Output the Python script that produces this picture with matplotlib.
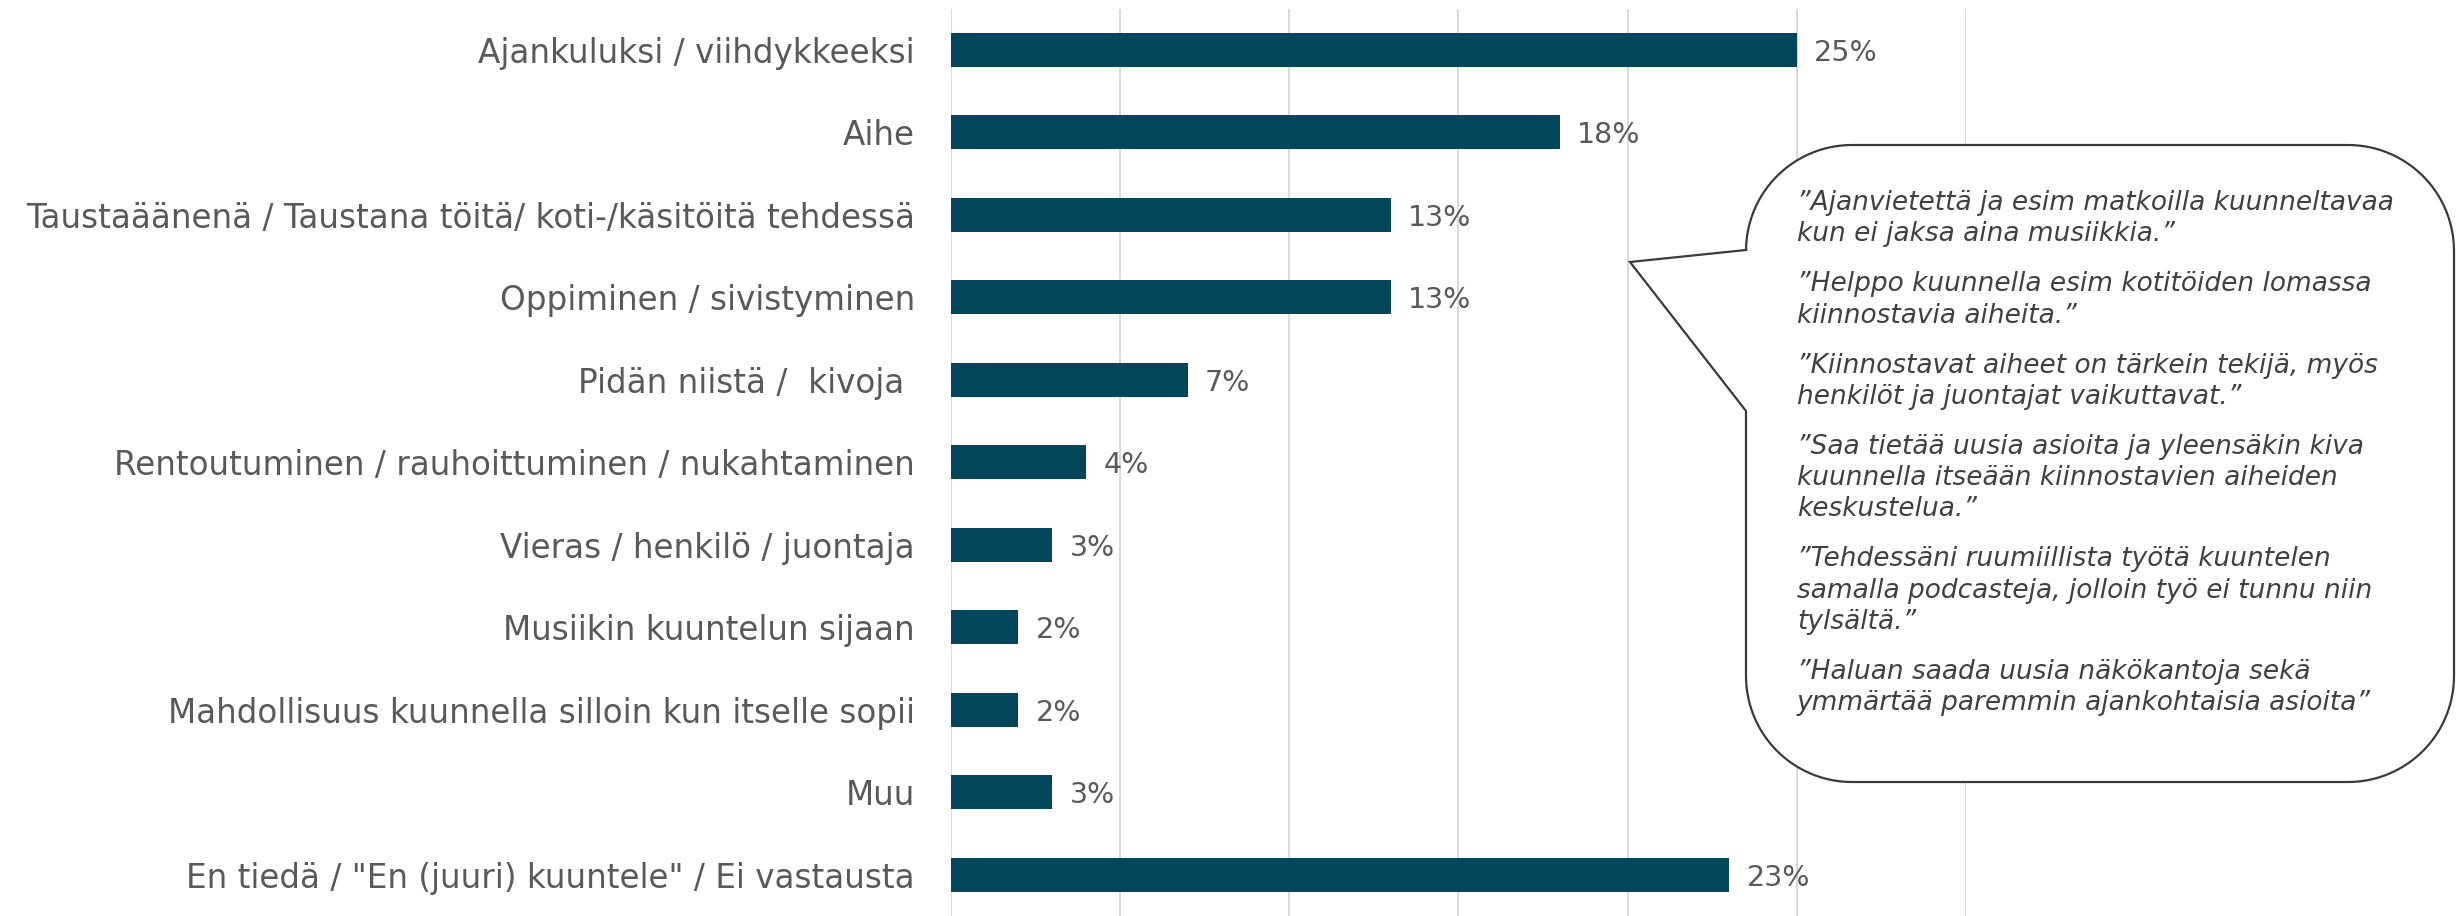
import numpy as np
import matplotlib
matplotlib.use("Agg")
import matplotlib.pyplot as plt
from matplotlib.path import Path
from matplotlib.patches import PathPatch

# Reasons for listening to podcasts (share of respondents, %)
categories = [
    "Ajankuluksi / viihdykkeeksi",
    "Aihe",
    "Taustaäänenä / Taustana töitä/ koti-/käsitöitä tehdessä",
    "Oppiminen / sivistyminen",
    "Pidän niistä /  kivoja ",
    "Rentoutuminen / rauhoittuminen / nukahtaminen",
    "Vieras / henkilö / juontaja",
    "Musiikin kuuntelun sijaan",
    "Mahdollisuus kuunnella silloin kun itselle sopii",
    "Muu",
    'En tiedä / "En (juuri) kuuntele" / Ei vastausta',
]
values = [25, 18, 13, 13, 7, 4, 3, 2, 2, 3, 23]

# Open answers shown in the speech bubble
quotes = [
    ["”Ajanvietettä ja esim matkoilla kuunneltavaa", "kun ei jaksa aina musiikkia.”"],
    ["”Helppo kuunnella esim kotitöiden lomassa", "kiinnostavia aiheita.”"],
    ["”Kiinnostavat aiheet on tärkein tekijä, myös", "henkilöt ja juontajat vaikuttavat.”"],
    ["”Saa tietää uusia asioita ja yleensäkin kiva", "kuunnella itseään kiinnostavien aiheiden",
     "keskustelua.”"],
    ["”Tehdessäni ruumiillista työtä kuuntelen", "samalla podcasteja, jolloin työ ei tunnu niin",
     "tylsältä.”"],
    ["”Haluan saada uusia näkökantoja sekä", "ymmärtää paremmin ajankohtaisia asioita”"],
]

bar_color = "#03465c"
text_color = "#595959"
font = "DejaVu Sans"

W, H = 2458, 916
fig = plt.figure(figsize=(W / 100, H / 100), dpi=100)
fig.patch.set_facecolor("white")

ax = fig.add_axes([950.5 / W, 0, 1015.8 / W, 1 - 8.5 / H])
y = np.arange(len(categories))
ax.barh(y, values, height=0.41, color=bar_color, zorder=2)
ax.set_xlim(0, 30)
ax.set_ylim(len(categories) - 0.5, -0.5)

ax.set_xticks(range(0, 31, 5))
ax.set_xticklabels([])
ax.grid(axis="x", color="#d9d9d9", linewidth=1.4)
ax.set_axisbelow(True)
ax.tick_params(axis="x", length=0)
ax.tick_params(axis="y", length=0, pad=25.5)
ax.set_yticks(y)
ax.set_yticklabels(categories, fontsize=23.5, color=text_color, family=font)
for lbl in ax.get_yticklabels():
    lbl.set_verticalalignment("center_baseline")
for s in ax.spines.values():
    s.set_visible(False)

for i, v in enumerate(values):
    ax.annotate(f"{v}%", (v, i), xytext=(12.5, 0), textcoords="offset points",
                va="center_baseline", ha="left", fontsize=20.5, color=text_color,
                family=font)

# overlay in pixel coordinates for the callout bubble
ov = fig.add_axes([0, 0, 1, 1])
ov.set_xlim(0, W)
ov.set_ylim(H, 0)
ov.axis("off")
ov.patch.set_alpha(0)

x0, x1, y0, y1, r = 1746, 2454, 145, 782, 106
tail_top, tail_bot, tip = 250, 411, (1630, 262)


def arc(cx, cy, a0, a1):
    t = np.linspace(np.radians(a0), np.radians(a1), 30)
    return list(zip(cx + r * np.cos(t), cy + r * np.sin(t)))


pts = [(x0 + r, y0), (x1 - r, y0)]
pts += arc(x1 - r, y0 + r, -90, 0)
pts += arc(x1 - r, y1 - r, 0, 90)
pts += arc(x0 + r, y1 - r, 90, 180)
pts += [(x0, tail_bot), tip, (x0, tail_top)]
pts += arc(x0 + r, y0 + r, 180, 270)
codes = [Path.MOVETO] + [Path.LINETO] * (len(pts) - 1)
pts.append(pts[0])
codes.append(Path.CLOSEPOLY)
ov.add_patch(PathPatch(Path(pts, codes), facecolor="white", edgecolor="#3a3a3a",
                       linewidth=1.6, joinstyle="miter"))

base = 210
for para in quotes:
    for line in para:
        ov.text(1797, base, line, fontsize=19, style="italic", family=font,
                color="#404040", va="baseline", ha="left")
        base += 31.3
    base += 50 - 31.3

fig.savefig("out.png", dpi=100, facecolor="white")
